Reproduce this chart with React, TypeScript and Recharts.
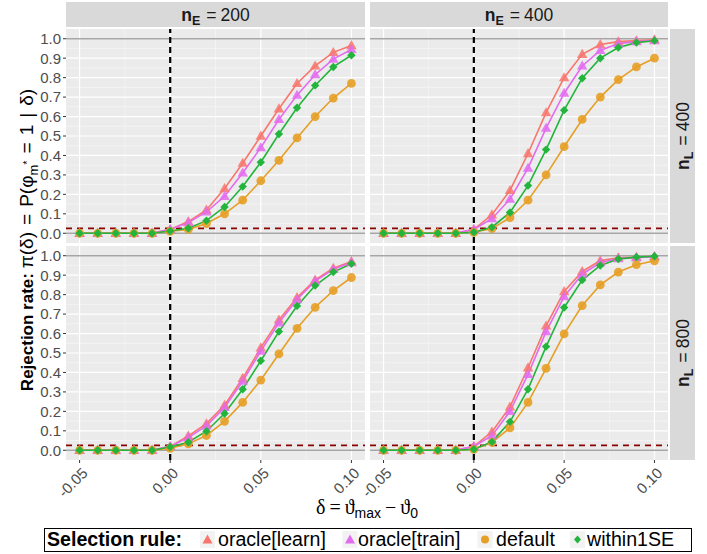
import React from "react";
import {
  LineChart,
  Line,
  XAxis,
  YAxis,
  CartesianGrid,
  ReferenceLine,
} from "recharts";

// delta values shared by every panel
const deltas = [
  -0.05, -0.04, -0.03, -0.02, -0.01, 0.0, 0.01, 0.02, 0.03, 0.04, 0.05, 0.06,
  0.07, 0.08, 0.09, 0.1,
];

// nE = 200, nL = 400
const learnE200L400 = [0, 0, 0, 0, 0, 0.02, 0.06, 0.12, 0.23, 0.36, 0.5, 0.64, 0.77, 0.86, 0.93, 0.965];
const trainE200L400 = [0, 0, 0, 0, 0, 0.02, 0.055, 0.11, 0.19, 0.31, 0.44, 0.585, 0.71, 0.815, 0.895, 0.945];
const defaultE200L400 = [0, 0, 0, 0, 0, 0.01, 0.02, 0.05, 0.1, 0.17, 0.27, 0.375, 0.49, 0.6, 0.695, 0.77];
const seE200L400 = [0, 0, 0, 0, 0, 0.012, 0.026, 0.065, 0.135, 0.24, 0.365, 0.51, 0.645, 0.76, 0.855, 0.915];

// nE = 400, nL = 400
const learnE400L400 = [0, 0, 0, 0, 0, 0.02, 0.095, 0.22, 0.41, 0.62, 0.8, 0.92, 0.97, 0.985, 0.99, 0.995];
const trainE400L400 = [0, 0, 0, 0, 0, 0.02, 0.075, 0.175, 0.335, 0.54, 0.72, 0.86, 0.94, 0.975, 0.985, 0.99];
const defaultE400L400 = [0, 0, 0, 0, 0, 0.005, 0.024, 0.08, 0.17, 0.3, 0.445, 0.585, 0.7, 0.79, 0.855, 0.9];
const seE400L400 = [0, 0, 0, 0, 0, 0.005, 0.031, 0.107, 0.245, 0.43, 0.633, 0.797, 0.9, 0.955, 0.98, 0.99];

// nE = 200, nL = 800
const learnE200L800 = [0, 0, 0, 0, 0, 0.02, 0.074, 0.137, 0.232, 0.37, 0.527, 0.67, 0.785, 0.876, 0.936, 0.97];
const trainE200L800 = [0, 0, 0, 0, 0, 0.02, 0.065, 0.125, 0.22, 0.355, 0.51, 0.655, 0.775, 0.87, 0.93, 0.965];
const defaultE200L800 = [0, 0, 0, 0, 0, 0.01, 0.033, 0.076, 0.149, 0.246, 0.361, 0.495, 0.627, 0.735, 0.821, 0.888];
const seE200L800 = [0, 0, 0, 0, 0, 0.017, 0.041, 0.098, 0.189, 0.314, 0.46, 0.61, 0.742, 0.847, 0.916, 0.959];

// nE = 400, nL = 800
const learnE400L800 = [0, 0, 0, 0, 0, 0.02, 0.094, 0.223, 0.424, 0.639, 0.816, 0.919, 0.975, 0.99, 0.993, 0.996];
const trainE400L800 = [0, 0, 0, 0, 0, 0.02, 0.075, 0.2, 0.39, 0.61, 0.79, 0.905, 0.965, 0.985, 0.99, 0.995];
const defaultE400L800 = [0, 0, 0, 0, 0, 0.005, 0.04, 0.115, 0.246, 0.421, 0.598, 0.744, 0.85, 0.916, 0.954, 0.974];
const seE400L800 = [0, 0, 0, 0, 0, 0.005, 0.043, 0.146, 0.314, 0.533, 0.734, 0.875, 0.95, 0.983, 0.993, 0.997];

const xTicks = [-0.05, 0, 0.05, 0.1];
const xMinor = [-0.025, 0.025, 0.075];
const yTicks = [0, 0.1, 0.2, 0.3, 0.4, 0.5, 0.6, 0.7, 0.8, 0.9, 1.0];
const yMinor = [0.05, 0.15, 0.25, 0.35, 0.45, 0.55, 0.65, 0.75, 0.85, 0.95];

const colLabels = ["200", "400"];
const rowLabels = ["400", "800"];

const C_LEARN = "#F8766D";
const C_TRAIN = "#E36BEF";
const C_DEFAULT = "#E69F25";
const C_SE = "#22B43C";

const SANS = "'Liberation Sans', Arial, Helvetica, sans-serif";
const SERIF = "'Liberation Serif', 'DejaVu Serif', serif";

const build = (learn: number[], train: number[], def: number[], se: number[]) =>
  deltas.map((x, i) => ({ x, learn: learn[i], train: train[i], def: def[i], se: se[i] }));

const triangleDot = (color: string) => (p: any) => {
  const { cx, cy, index } = p;
  if (cx == null || cy == null) return <g key={index} />;
  const s = 10.5;
  const h = s * 0.866;
  const pts = `${cx},${cy - h * 0.6} ${cx - s / 2},${cy + h * 0.4} ${cx + s / 2},${cy + h * 0.4}`;
  return <polygon key={index} points={pts} fill={color} fillOpacity={0.85} />;
};

const circleDot = (color: string) => (p: any) => {
  const { cx, cy, index } = p;
  if (cx == null || cy == null) return <g key={index} />;
  return <circle key={index} cx={cx} cy={cy} r={4.4} fill={color} fillOpacity={0.9} />;
};

const diamondDot = (color: string) => (p: any) => {
  const { cx, cy, index } = p;
  if (cx == null || cy == null) return <g key={index} />;
  const r = 4.2;
  const pts = `${cx},${cy - r} ${cx + r},${cy} ${cx},${cy + r} ${cx - r},${cy}`;
  return <polygon key={index} points={pts} fill={color} />;
};

const XTick = (props: any) => {
  const { x, y, payload } = props;
  const px = x + 9;
  const py = y + 9;
  return (
    <text
      x={px}
      y={py}
      transform={`rotate(-45 ${px} ${py})`}
      textAnchor="end"
      fontSize={15}
      fontFamily={SANS}
      fill="#4D4D4D"
    >
      {payload.value.toFixed(2)}
    </text>
  );
};

type PanelProps = {
  data: any[];
  left: number;
  top: number;
  width: number;
  height: number;
  showY: boolean;
  showX: boolean;
};

const Panel = ({ data, left, top, width, height, showY, showX }: PanelProps) => {
  const yW = showY ? 40 : 0;
  // room on the left for the rotated tick labels of the right column
  const padL = !showY && showX ? 24 : 0;
  const xH = showX ? 40 : 0;
  return (
    <div style={{ position: "absolute", left: left - yW - padL, top }}>
      <LineChart
        width={width + yW + padL}
        height={height + xH}
        data={data}
        margin={{ top: 0, right: 0, bottom: 0, left: padL }}
      >
        <CartesianGrid
          fill="#EBEBEB"
          stroke="#F7F7F7"
          strokeWidth={0.7}
          horizontalValues={yMinor}
          verticalValues={xMinor}
        />
        <CartesianGrid
          stroke="#FFFFFF"
          strokeWidth={1.2}
          horizontalValues={yTicks}
          verticalValues={xTicks}
        />
        <XAxis
          type="number"
          dataKey="x"
          domain={[-0.0575, 0.1075]}
          ticks={xTicks}
          interval={0}
          allowDataOverflow
          hide={!showX}
          height={xH}
          axisLine={false}
          tickSize={3}
          tickMargin={2}
          tickLine={{ stroke: "#333333" }}
          tick={<XTick />}
        />
        <YAxis
          type="number"
          domain={[-0.05, 1.05]}
          ticks={yTicks}
          interval={0}
          allowDataOverflow
          hide={!showY}
          width={yW}
          axisLine={false}
          tickSize={3}
          tickMargin={2}
          tickLine={{ stroke: "#333333" }}
          tick={{ fill: "#4D4D4D", fontSize: 15, fontFamily: SANS }}
          tickFormatter={(v: number) => v.toFixed(1)}
        />
        <ReferenceLine y={0} stroke="#A6A6A6" strokeWidth={1.6} />
        <ReferenceLine y={1} stroke="#A6A6A6" strokeWidth={1.6} />
        <ReferenceLine x={0} stroke="#000000" strokeWidth={2.2} strokeDasharray="6 4" />
        <ReferenceLine y={0.025} stroke="#8B0000" strokeWidth={1.7} strokeDasharray="6 5" />
        <Line
          dataKey="learn"
          stroke={C_LEARN}
          strokeWidth={1.6}
          dot={triangleDot(C_LEARN)}
          activeDot={false}
          isAnimationActive={false}
        />
        <Line
          dataKey="train"
          stroke={C_TRAIN}
          strokeWidth={1.6}
          dot={triangleDot(C_TRAIN)}
          activeDot={false}
          isAnimationActive={false}
        />
        <Line
          dataKey="def"
          stroke={C_DEFAULT}
          strokeWidth={1.6}
          dot={circleDot(C_DEFAULT)}
          activeDot={false}
          isAnimationActive={false}
        />
        <Line
          dataKey="se"
          stroke={C_SE}
          strokeWidth={1.6}
          dot={diamondDot(C_SE)}
          activeDot={false}
          isAnimationActive={false}
        />
      </LineChart>
    </div>
  );
};

const colLeft = [66, 370];
const colWidth = [299, 298];
const rowTop = [29, 246];
const panelH = 214;

const StripLabel = ({ sub, value }: { sub: string; value: string }) => (
  <>
    <tspan fontWeight="bold">n</tspan>
    <tspan fontWeight="bold" fontSize={12.5} dy={4}>{sub}</tspan>
    <tspan dy={-4} dx={6}>=</tspan>
    <tspan dx={4}>{value}</tspan>
  </>
);

const App = () => {
  const panels = [
    [build(learnE200L400, trainE200L400, defaultE200L400, seE200L400), build(learnE400L400, trainE400L400, defaultE400L400, seE400L400)],
    [build(learnE200L800, trainE200L800, defaultE200L800, seE200L800), build(learnE400L800, trainE400L800, defaultE400L800, seE400L800)],
  ];

  return (
    <div
      style={{
        position: "absolute",
        left: 0,
        top: 0,
        width: 707,
        height: 554,
        background: "#FFFFFF",
        fontFamily: SANS,
      }}
    >
      <svg width={707} height={554} style={{ position: "absolute", left: 0, top: 0 }}>
        {/* top strips */}
        {colLabels.map((lab, c) => (
          <g key={`cs${c}`}>
            <rect x={colLeft[c]} y={2} width={colWidth[c]} height={25} fill="#D9D9D9" />
            <text
              x={colLeft[c] + colWidth[c] / 2}
              y={21}
              textAnchor="middle"
              fontSize={17.5}
              fill="#1A1A1A"
              fontFamily={SANS}
            >
              <StripLabel sub="E" value={lab} />
            </text>
          </g>
        ))}
        {/* right strips */}
        {rowLabels.map((lab, r) => (
          <g key={`rs${r}`}>
            <rect x={670} y={rowTop[r]} width={25} height={panelH} fill="#D9D9D9" />
            <text
              transform={`translate(688.5 ${rowTop[r] + panelH / 2}) rotate(-90)`}
              textAnchor="middle"
              fontSize={17.5}
              fill="#1A1A1A"
              fontFamily={SANS}
            >
              <StripLabel sub="L" value={lab} />
            </text>
          </g>
        ))}
        {/* y axis title */}
        <text
          transform="translate(33 240) rotate(-90)"
          textAnchor="middle"
          fontSize={17}
          fill="#000000"
          fontFamily={SANS}
        >
          <tspan fontWeight="bold">Rejection rate: </tspan>
          <tspan fontSize={19}>π(δ)</tspan>
          <tspan fontSize={19} dx={7}>=</tspan>
          <tspan fontSize={19} dx={7}>P(φ</tspan>
          <tspan fontSize={13} dy={5}>m</tspan>
          <tspan fontSize={11} dy={-7}>*</tspan>
          <tspan fontSize={19} dy={2} dx={7}>=</tspan>
          <tspan fontSize={19} dx={7}>1</tspan>
          <tspan fontSize={19} dx={7}>|</tspan>
          <tspan fontSize={19} dx={7}>δ)</tspan>
        </text>
        {/* x axis title */}
        <text x={367} y={514} textAnchor="middle" fontSize={20} fill="#000000" fontFamily={SERIF}>
          <tspan>δ</tspan>
          <tspan dx={4}>=</tspan>
          <tspan dx={4}>ϑ</tspan>
          <tspan fontFamily={SANS} fontSize={14} dy={4}>max</tspan>
          <tspan dy={-4} dx={4}>−</tspan>
          <tspan dx={4}>ϑ</tspan>
          <tspan fontFamily={SANS} fontSize={14} dy={4}>0</tspan>
        </text>
        {/* legend */}
        <rect x={44.5} y={528.5} width={647} height={23} fill="#FFFFFF" stroke="#000000" strokeWidth={1} />
        <text x={47} y={546} fontSize={19.6} fontWeight="bold" fill="#000000" fontFamily={SANS}>
          Selection rule:
        </text>
        <rect x={200} y={531} width={15} height={17} fill="#F2F2F2" />
        <polygon points="207.5,534.5 202.5,543.5 212.5,543.5" fill={C_LEARN} />
        <text x={218} y={546} fontSize={19.6} fill="#000000" fontFamily={SANS}>oracle[learn]</text>
        <rect x={342.5} y={531} width={15} height={17} fill="#F2F2F2" />
        <polygon points="350,534.5 345,543.5 355,543.5" fill={C_TRAIN} />
        <text x={358} y={546} fontSize={19.6} fill="#000000" fontFamily={SANS}>oracle[train]</text>
        <rect x={477.5} y={531} width={15} height={17} fill="#F2F2F2" />
        <circle cx={485} cy={539.5} r={4} fill={C_DEFAULT} />
        <text x={496} y={546} fontSize={19.6} fill="#000000" fontFamily={SANS}>default</text>
        <rect x={570} y={531} width={15} height={17} fill="#F2F2F2" />
        <polygon points="577.5,535.5 581,539.5 577.5,543.5 574,539.5" fill={C_SE} />
        <text x={587} y={546} fontSize={19.6} fill="#000000" fontFamily={SANS}>within1SE</text>
      </svg>
      {panels.map((row, r) =>
        row.map((data, c) => (
          <Panel
            key={`p${r}${c}`}
            data={data}
            left={colLeft[c]}
            top={rowTop[r]}
            width={colWidth[c]}
            height={panelH}
            showY={c === 0}
            showX={r === 1}
          />
        ))
      )}
    </div>
  );
};

export default App;
